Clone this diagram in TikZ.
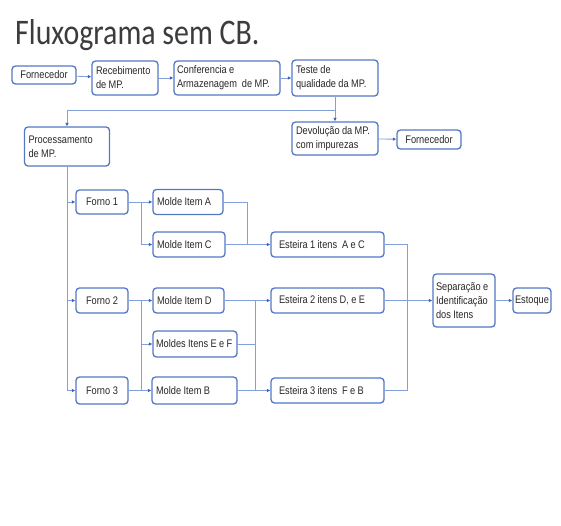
\documentclass[tikz,border=0pt]{standalone}
\usepackage{fontspec}
\usetikzlibrary{arrows.meta}
\newfontfamily\boxfont{Liberation Sans}[FakeStretch=0.84]
\newfontfamily\titlefont{Carlito}[FakeStretch=0.83]
\DeclareRobustCommand\tightsp{\spaceskip=2.4pt plus 1pt\relax}
\definecolor{bordc}{RGB}{84,120,196}
\definecolor{linec}{RGB}{130,160,218}
\definecolor{tipc}{RGB}{60,100,190}
\definecolor{txtc}{RGB}{40,40,40}
\definecolor{titc}{RGB}{60,60,60}
\begin{document}
\begin{tikzpicture}[x=1pt,y=-1pt,
  box/.style={draw=bordc, line width=1.3pt, rounded corners=3.5pt, fill=white,
    inner xsep=4pt, inner ysep=0pt, text=txtc,
    font=\boxfont\fontsize{11}{14}\selectfont\tightsp, align=left},
  cbox/.style={box, align=center},
  wire/.style={draw=linec, line width=0.9pt},
  conn/.style={wire, -{Latex[length=3.5pt,width=3.5pt,color=tipc]}}]
\useasboundingbox (0,0) rectangle (561,525);
\node[anchor=base west, text=titc, font=\titlefont\fontsize{36}{40}\selectfont, inner sep=0pt] (title) at (15,44) {Fluxograma sem CB.};
% row 1
\node[cbox, minimum width=64pt, minimum height=18pt, text width=56pt] (f1) at (44,75) {Fornecedor};
\node[box, minimum width=66pt, minimum height=34pt, text width=58pt] (rec) at (125,78) {\tightsp\mbox{Recebimento}\\de MP.};
\node[box, inner xsep=3pt, minimum width=106pt, minimum height=34pt, text width=100pt] (conf) at (227,78) {\tightsp Conferencia e\\\mbox{Armazenagem\ \ de MP.}};
\node[box, minimum width=86pt, minimum height=36pt, text width=78pt] (teste) at (335,78) {\tightsp Teste de\\\mbox{qualidade da MP.}};
\node[box, minimum width=86pt, minimum height=33pt, text width=78pt] (dev) at (335,138.5) {\tightsp\mbox{Devolução da MP.}\\com impurezas};
\node[cbox, minimum width=64pt, minimum height=19pt, text width=56pt] (f2) at (429,139.5) {Fornecedor};
\node[box, minimum width=85pt, minimum height=39pt, text width=77pt] (proc) at (67,146.5) {\tightsp\mbox{Processamento}\\de MP.};
% fornos
\node[cbox, minimum width=52pt, minimum height=24pt, text width=44pt] (forno1) at (102,202) {\tightsp Forno 1};
\node[cbox, minimum width=52pt, minimum height=25pt, text width=44pt] (forno2) at (102,300.5) {\tightsp Forno 2};
\node[cbox, minimum width=52pt, minimum height=27pt, text width=44pt] (forno3) at (102,390.5) {\tightsp Forno 3};
% moldes
\node[box, minimum width=70pt, minimum height=25pt, text width=62pt] (ma) at (188,202) {\tightsp\mbox{Molde Item A}};
\node[box, minimum width=72pt, minimum height=25pt, text width=64pt] (mc) at (189,244.5) {\tightsp\mbox{Molde Item C}};
\node[box, minimum width=71pt, minimum height=25pt, text width=63pt] (md) at (188.5,300.5) {\tightsp\mbox{Molde Item D}};
\node[box, inner xsep=3pt, minimum width=84pt, minimum height=26pt, text width=78pt] (mef) at (195,344) {\tightsp\mbox{Moldes Itens E e F}};
\node[box, minimum width=85pt, minimum height=27pt, text width=77pt] (mb) at (194.5,390.5) {\tightsp\mbox{Molde Item B}};
% esteiras
\node[box, inner xsep=8pt, minimum width=113pt, minimum height=25pt, text width=97pt] (e1) at (327.5,244.5) {\tightsp\mbox{Esteira 1 itens\ \ A e C}};
\node[box, inner xsep=8pt, minimum width=113pt, minimum height=25pt, text width=97pt] (e2) at (327.5,300.5) {\tightsp\mbox{Esteira 2 itens D, e E}};
\node[box, inner xsep=8pt, minimum width=113pt, minimum height=25pt, text width=97pt] (e3) at (327.5,390.5) {\tightsp\mbox{Esteira 3 itens\ \ F e B}};
\node[box, inner xsep=3pt, minimum width=62pt, minimum height=53pt, text width=56pt] (sep) at (464,300.5) {\tightsp\mbox{Separação e}\\\mbox{Identificação}\\dos Itens};
\node[cbox, inner xsep=2pt, minimum width=38pt, minimum height=25pt, text width=34pt] (est) at (532,300.5) {\makebox[34pt][c]{Estoque}};
% connectors row 1
\draw[conn] (f1) -- (rec);
\draw[conn] (rec) -- (conf);
\draw[conn] (conf) -- (teste);
\draw[conn] (teste) -- (dev);
\coordinate (j0) at (335,110);
\draw[conn] (j0) -| (proc.north);
\draw[conn] (dev) -- (f2);
% trunk
\coordinate (t3) at (67,390.5);
\draw[wire] (proc.south) -- (t3);
\draw[conn] (proc.south |- forno1) -- (forno1);
\draw[conn] (proc.south |- forno2) -- (forno2);
\draw[conn] (t3) -- (forno3);
% fornos to moldes
\coordinate (b1) at (141,202);
\draw[conn] (forno1) -- (ma);
\draw[conn] (b1) |- (mc);
\coordinate (b2) at (141,300.5);
\coordinate (b3) at (141,390.5);
\draw[conn] (forno2) -- (md);
\draw[conn] (forno3) -- (mb);
\draw[wire] (b2) -- (b3);
\draw[conn] (b2 |- mef) -- (mef);
% moldes to esteiras
\coordinate (c1) at (247,202);
\draw[wire] (ma) -- (c1) -- (c1 |- e1);
\draw[conn] (mc) -- (e1);
\coordinate (c2) at (255,300.5);
\coordinate (c3) at (255,390.5);
\draw[conn] (md) -- (e2);
\draw[conn] (mb) -- (e3);
\draw[wire] (c2) -- (c3);
\draw[wire] (mef) -- (c2 |- mef);
% esteiras to separacao
\coordinate (d1) at (407,300.5);
\draw[wire] (e1) -| (d1);
\draw[wire] (e3) -| (d1);
\draw[conn] (e2) -- (sep);
\draw[conn] (sep) -- (est);
\end{tikzpicture}
\end{document}
